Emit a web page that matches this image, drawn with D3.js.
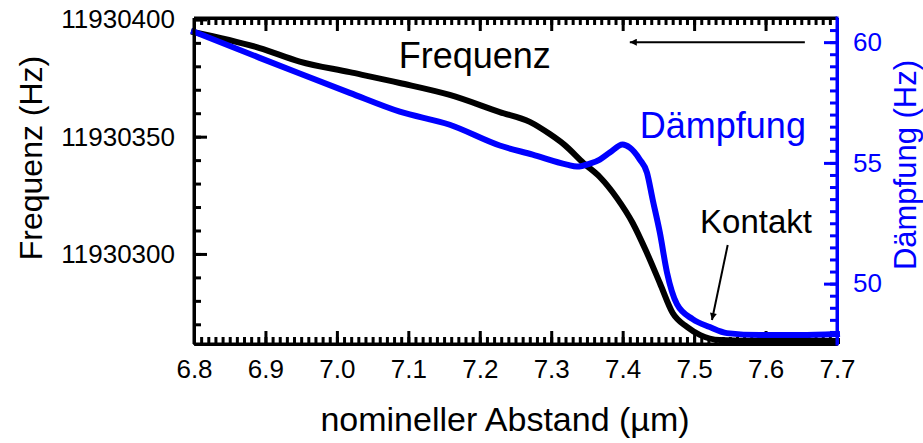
<!DOCTYPE html>
<html>
<head>
<meta charset="utf-8">
<script src="https://cdn.jsdelivr.net/npm/d3@7"></script>
<style>
  body { margin: 0; background: #fff; }
  svg { display: block; font-family: "Liberation Sans", Arial, sans-serif; }
  .axis path, .axis line { stroke-width: 3; }
  .axis text { font-size: 26px; }
</style>
</head>
<body>
<svg id="chart" width="923" height="443"></svg>
<script>
// data
const freqDistance = [6.800, 6.892, 6.948, 7.018, 7.088, 7.158, 7.228, 7.270, 7.298, 7.319, 7.345, 7.368, 7.392, 7.414, 7.434, 7.452, 7.470, 7.490, 7.508, 7.536, 7.592, 7.700];
const frequency = [11930394.6, 11930387.8, 11930382.0, 11930377.5, 11930372.9, 11930367.8, 11930360.5, 11930356.3, 11930351.1, 11930346.4, 11930338.8, 11930332.8, 11930323.8, 11930313.2, 11930300.4, 11930287.6, 11930274.8, 11930268.9, 11930265.5, 11930263.3, 11930262.9, 11930262.9];

const dampDistance = [6.800, 6.892, 6.948, 7.018, 7.088, 7.158, 7.228, 7.274, 7.322, 7.336, 7.354, 7.368, 7.382, 7.400, 7.410, 7.424, 7.434, 7.442, 7.452, 7.462, 7.476, 7.498, 7.522, 7.546, 7.592, 7.648, 7.700];
const damping = [60.43, 59.35, 58.70, 57.90, 57.12, 56.58, 55.72, 55.34, 54.93, 54.85, 54.97, 55.14, 55.43, 55.76, 55.63, 55.14, 54.60, 53.48, 52.12, 50.47, 49.15, 48.53, 48.20, 47.95, 47.87, 47.87, 47.91];

const xTicks = [6.8, 6.9, 7.0, 7.1, 7.2, 7.3, 7.4, 7.5, 7.6, 7.7];
const freqTicks = [11930300, 11930350, 11930400];
const dampTicks = [50, 55, 60];

const margin = { top: 18, right: 86, bottom: 99, left: 194 };
const W = 923, H = 443;
const width = W - margin.left - margin.right;
const height = H - margin.top - margin.bottom;
const blue = "#0000ff";

const svg = d3.select("#chart");
const g = svg.append("g").attr("transform", `translate(${margin.left},${margin.top})`);

const x = d3.scaleLinear().domain([6.8, 7.7]).range([0, width]);
const yF = d3.scaleLinear().domain([11930261.6, 11930400.6]).range([height, 0]);
const yD = d3.scaleLinear().domain([47.5, 61]).range([height, 0]);

const xMinor = d3.range(680, 771).map(d => d / 100);
const fMinor = d3.range(11930270, 11930401, 10);
const dMinor = d3.range(96, 122).map(d => d / 2);

// minor ticks
g.append("g").attr("class", "axis").attr("transform", `translate(0,${height})`)
  .call(d3.axisBottom(x).tickValues(xMinor).tickSizeInner(-7).tickSizeOuter(0).tickFormat(""));
g.append("g").attr("class", "axis")
  .call(d3.axisTop(x).tickValues(xMinor).tickSizeInner(-7).tickSizeOuter(0).tickFormat(""));
g.append("g").attr("class", "axis")
  .call(d3.axisLeft(yF).tickValues(fMinor).tickSizeInner(-7).tickSizeOuter(0).tickFormat(""));
const rMinor = g.append("g").attr("class", "axis").attr("transform", `translate(${width},0)`)
  .call(d3.axisRight(yD).tickValues(dMinor).tickSizeInner(-7).tickSizeOuter(0).tickFormat(""));
rMinor.selectAll("line,path").attr("stroke", blue);

// major ticks
g.append("g").attr("class", "axis").attr("transform", `translate(0,${height})`)
  .call(d3.axisBottom(x).tickValues(xTicks).tickSizeInner(-13).tickSizeOuter(0).tickPadding(16).tickFormat(d3.format(".1f")))
  .selectAll("text").attr("fill", "#000");
g.append("g").attr("class", "axis")
  .call(d3.axisTop(x).tickValues(xTicks).tickSizeInner(-13).tickSizeOuter(0).tickFormat(""));
g.append("g").attr("class", "axis")
  .call(d3.axisLeft(yF).tickValues(freqTicks).tickSizeInner(-13).tickSizeOuter(0).tickPadding(19).tickFormat(d3.format("d")))
  .selectAll("text").attr("fill", "#000");

// data lines
const lineF = d3.line().x((d, i) => x(freqDistance[i])).y(d => yF(d)).curve(d3.curveMonotoneX);
const lineD = d3.line().x((d, i) => x(dampDistance[i])).y(d => yD(d)).curve(d3.curveMonotoneX);

g.append("path").datum(frequency).attr("d", lineF)
  .attr("fill", "none").attr("stroke", "#000").attr("stroke-width", 6).attr("stroke-linecap", "square");
g.append("path").datum(damping).attr("d", lineD)
  .attr("fill", "none").attr("stroke", blue).attr("stroke-width", 6).attr("stroke-linecap", "square");

const rAxis = g.append("g").attr("class", "axis").attr("transform", `translate(${width},0)`)
  .call(d3.axisRight(yD).tickValues(dampTicks).tickSizeInner(-13).tickSizeOuter(0).tickPadding(16));
rAxis.selectAll("line,path").attr("stroke", blue);
rAxis.selectAll("text").attr("fill", blue);

// frame lines
g.append("line").attr("x1", 0).attr("x2", width).attr("y1", 0).attr("y2", 0).attr("stroke", "#000").attr("stroke-width", 3);
g.append("line").attr("x1", 0).attr("x2", width).attr("y1", height).attr("y2", height).attr("stroke", "#000").attr("stroke-width", 3);
g.append("line").attr("x1", 0).attr("x2", 0).attr("y1", 0).attr("y2", height).attr("stroke", "#000").attr("stroke-width", 3);
g.append("line").attr("x1", width).attr("x2", width).attr("y1", -1.5).attr("y2", height + 1.5).attr("stroke", blue).attr("stroke-width", 3);

// axis titles
svg.append("text").attr("x", 505).attr("y", 431)
  .attr("text-anchor", "middle").attr("font-size", 34).text("nomineller Abstand (µm)");
svg.append("text").attr("transform", `translate(42,158) rotate(-90)`)
  .attr("text-anchor", "middle").attr("font-size", 32).text("Frequenz (Hz)");
svg.append("text").attr("transform", `translate(916,165) rotate(-90)`)
  .attr("text-anchor", "middle").attr("font-size", 31).attr("fill", blue).text("Dämpfung (Hz)");

// annotations
svg.append("defs").append("marker").attr("id", "arr")
  .attr("viewBox", "0 0 10 10").attr("refX", 10).attr("refY", 5)
  .attr("markerWidth", 9).attr("markerHeight", 7).attr("orient", "auto-start-reverse")
  .attr("markerUnits", "userSpaceOnUse")
  .append("path").attr("d", "M0,0 L10,5 L0,10 Z").attr("fill", "#000");

g.append("text").attr("x", x(7.193)).attr("y", yF(11930379.3)).attr("text-anchor", "middle")
  .attr("font-size", 36).text("Frequenz");
g.append("text").attr("x", x(7.424)).attr("y", yD(56.05)).attr("text-anchor", "start")
  .attr("font-size", 36).attr("fill", blue).text("Dämpfung");
g.append("text").attr("x", x(7.665)).attr("y", yF(11930309)).attr("text-anchor", "end")
  .attr("font-size", 33).text("Kontakt");

g.append("line").attr("x1", x(7.655)).attr("y1", yD(60)).attr("x2", x(7.41)).attr("y2", yD(60))
  .attr("stroke", "#000").attr("stroke-width", 2).attr("marker-end", "url(#arr)");
g.append("line").attr("x1", x(7.547)).attr("y1", yF(11930303.8)).attr("x2", x(7.525)).attr("y2", yF(11930271.8))
  .attr("stroke", "#000").attr("stroke-width", 2).attr("marker-end", "url(#arr)");
</script>
</body>
</html>
